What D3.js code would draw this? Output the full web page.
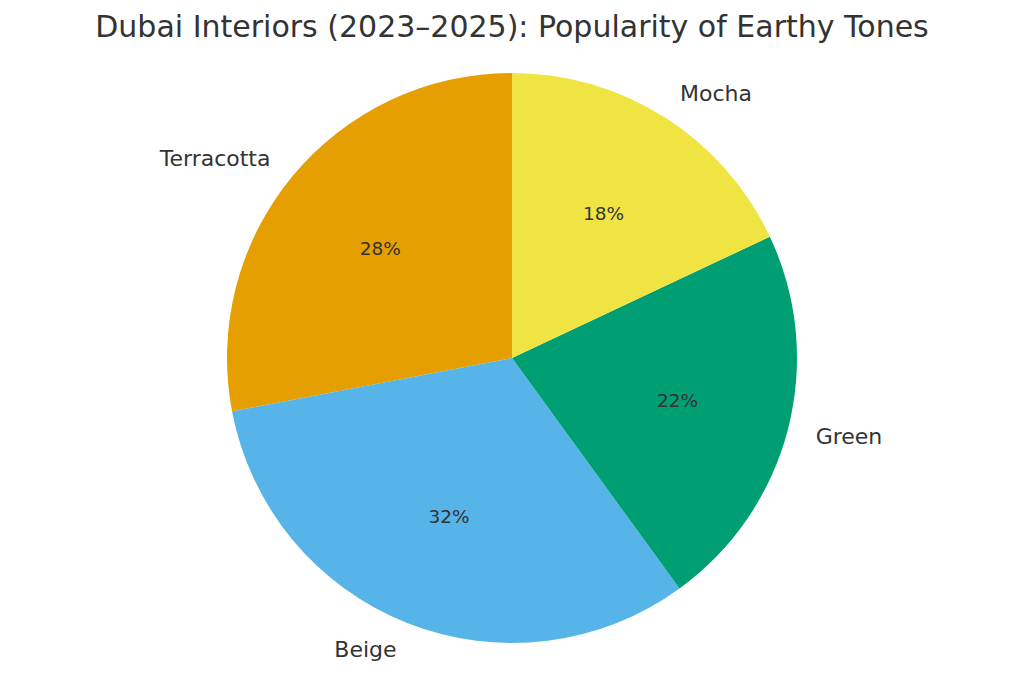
<!DOCTYPE html>
<html>
<head>
<meta charset="utf-8">
<script src="https://cdn.jsdelivr.net/npm/d3@7"></script>
<style>
    body { margin: 0; background: #fff; }
    text { font-family: "DejaVu Sans", sans-serif; fill: #333; }
</style>
</head>
<body>
<script>
// chart data
var categories = ["Terracotta", "Beige", "Green", "Mocha"];
var shares = [28, 32, 22, 18];
var colours = ["#E69F00", "#56B4E9", "#009E73", "#F0E442"];
var title = "Dubai Interiors (2023\u20132025): Popularity of Earthy Tones";

var width = 1024, height = 683;
var cx = 512, cy = 358, radius = 285;

var svg = d3.select("body").append("svg")
    .attr("width", width)
    .attr("height", height);

svg.append("text")
    .attr("x", width / 2)
    .attr("y", 37)
    .attr("text-anchor", "middle")
    .style("font-size", "30px")
    .text(title);

// matplotlib style: start at 12 o'clock, go counterclockwise
var pie = d3.pie()
    .sort(null)
    .startAngle(0)
    .endAngle(-2 * Math.PI)
    .value(function(d) { return d; });

var arcs = pie(shares);

var arc = d3.arc().innerRadius(0).outerRadius(radius);

var g = svg.append("g")
    .attr("transform", "translate(" + cx + "," + cy + ")");

g.selectAll("path")
    .data(arcs)
    .enter()
    .append("path")
    .attr("d", arc)
    .attr("fill", function(d, i) { return colours[i]; });

function mid(d) { return (d.startAngle + d.endAngle) / 2; }

// category labels outside the pie
g.selectAll("text.lbl")
    .data(arcs)
    .enter()
    .append("text")
    .attr("class", "lbl")
    .attr("x", function(d) { return Math.sin(mid(d)) * radius * 1.1; })
    .attr("y", function(d) { return -Math.cos(mid(d)) * radius * 1.1; })
    .attr("dy", "0.35em")
    .attr("text-anchor", function(d) {
        return Math.sin(mid(d)) > 0 ? "start" : "end";
    })
    .style("font-size", "22px")
    .text(function(d, i) { return categories[i]; });

// percentages inside
g.selectAll("text.pct")
    .data(arcs)
    .enter()
    .append("text")
    .attr("class", "pct")
    .attr("x", function(d) { return Math.sin(mid(d)) * radius * 0.6; })
    .attr("y", function(d) { return -Math.cos(mid(d)) * radius * 0.6; })
    .attr("dy", "0.35em")
    .attr("text-anchor", "middle")
    .style("font-size", "18.5px")
    .text(function(d) { return d.value + "%"; });
</script>
</body>
</html>
